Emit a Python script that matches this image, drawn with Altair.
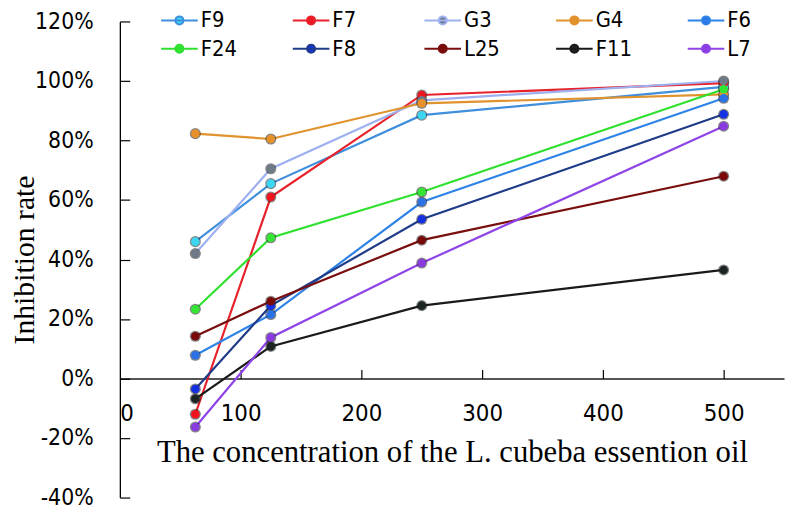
import altair as alt
import pandas as pd

# concentrations (x) and inhibition rates (%)
conc = [62.5, 125, 250, 500]
names = ["F9", "F7", "G3", "G4", "F6", "F24", "F8", "L25", "F11", "L7"]
F9 = [46.0, 65.5, 88.5, 98.0]
F7 = [-12.0, 61.0, 95.3, 99.3]
G3 = [42.0, 70.5, 93.5, 100.0]
G4 = [82.3, 80.5, 92.5, 95.5]
F6 = [7.8, 21.5, 59.3, 94.2]
F24 = [23.3, 47.3, 62.7, 97.2]
F8 = [-3.5, 24.5, 53.5, 88.8]
L25 = [14.2, 26.0, 46.5, 68.0]
F11 = [-6.8, 10.8, 24.5, 36.5]
L7 = [-16.3, 13.8, 38.8, 84.8]
series = [F9, F7, G3, G4, F6, F24, F8, L25, F11, L7]

line_colors = ["#3f8fdc", "#e8222a", "#9db0ef", "#e0922c", "#2e84e6",
               "#30e030", "#1f3c88", "#7a0e0e", "#1a1a1a", "#8e44e6"]
marker_colors = ["#3ad6f2", "#f0141e", "#6e7a88", "#e8902a", "#2a72e6",
                 "#33e633", "#1530e0", "#7a0a0a", "#1c2424", "#8a3be0"]

x_ticks = [0, 100, 200, 300, 400, 500]
y_ticks = [-40, -20, 0, 20, 40, 60, 80, 100, 120]

rows = []
for n, vals in zip(names, series):
    for c, v in zip(conc, vals):
        rows.append({"strain": n, "conc": c, "rate": v})
df = pd.DataFrame(rows)

W, H = 671, 481
SANS = "Liberation Sans Narrow, DejaVu Sans Condensed, Arial Narrow, sans-serif"
SERIF = "Liberation Serif, Times New Roman, serif"

sym_path = ("M-1.5,0L1.5,0M-0.33,0a0.33,0.33 0 1,0 0.66,0"
            "a0.33,0.33 0 1,0 -0.66,0")

legend = alt.Legend(
    title=None, orient="none", legendX=46.7, legendY=-14.8,
    direction="horizontal", columns=5, gridAlign="all", columnPadding=52,
    rowPadding=3.8, padding=0,
    symbolType=sym_path, symbolSize=608, symbolStrokeWidth=2,
    labelFont=SANS, labelFontSize=22, labelColor="black", labelOffset=8,
)

bottom_axis = alt.Axis(
    orient="bottom", offset=-(H * 0.25), values=x_ticks, tickSize=0,
    labelPadding=23, domainColor="#555555", domainWidth=2, grid=False,
    labelFont=SANS, labelFontSize=24, labelColor="black",
    title="The concentration of the L. cubeba essention oil",
    titleFont=SERIF, titleFontSize=31, titleFontWeight="normal",
    titleColor="black", titleY=84, titleBaseline="alphabetic",
)
top_axis = alt.Axis(
    orient="top", offset=-(H * 0.75), values=x_ticks[1:], tickSize=9,
    tickColor="black", tickWidth=1.2, labels=False, domain=False,
    grid=False, title=None,
)
left_axis = alt.Axis(
    orient="left", values=y_ticks, tickSize=0, labelPadding=27,
    domainColor="black", domainWidth=1.3, grid=False,
    labelExpr="datum.value + '%'", labelFont=SANS, labelFontSize=23,
    labelColor="black", title="Inhibition rate", titleFont=SERIF,
    titleFontSize=30, titleFontWeight="normal", titleColor="black",
    titleX=-87, titleBaseline="alphabetic",
)
right_axis = alt.Axis(
    orient="right", offset=-W, values=y_ticks, tickSize=10,
    tickColor="black", tickWidth=1.2, labels=False, domain=False,
    grid=False, title=None,
)

xs = alt.Scale(domain=[0, 550], nice=False, zero=False)
ys = alt.Scale(domain=[-40, 120], nice=False, zero=False)

lines = alt.Chart(df).mark_line(strokeWidth=2.2).encode(
    x=alt.X("conc:Q", scale=xs, axis=bottom_axis),
    y=alt.Y("rate:Q", scale=ys, axis=left_axis),
    color=alt.Color("strain:N", scale=alt.Scale(domain=names, range=line_colors),
                    legend=legend),
    order=alt.Order("conc:Q"),
)

halo = alt.Chart(df).mark_circle(size=125, opacity=0.55, color="#222222").encode(
    x=alt.X("conc:Q", scale=xs, axis=None),
    y=alt.Y("rate:Q", scale=ys, axis=None),
)

points = alt.Chart(df).mark_circle(size=75, opacity=1).encode(
    x=alt.X("conc:Q", scale=xs, axis=top_axis),
    y=alt.Y("rate:Q", scale=ys, axis=right_axis),
    fill=alt.Fill("strain:N", scale=alt.Scale(domain=names, range=marker_colors),
                  legend=legend),
)

chart = alt.layer(lines, halo, points).resolve_axis(
    x="independent", y="independent"
).properties(
    width=W, height=H, autosize="none",
    padding={"left": 113, "top": 11, "right": 2, "bottom": 13},
).configure_view(stroke=None)

chart.save("out.html", embed_options={"renderer": "svg", "actions": False})
